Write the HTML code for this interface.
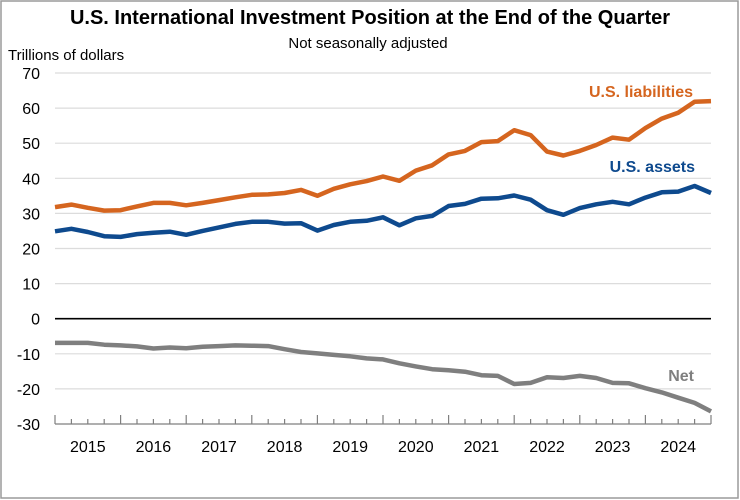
<!DOCTYPE html>
<html><head><meta charset="utf-8"><style>
body{margin:0;background:#fff;}
svg{display:block;font-family:"Liberation Sans",sans-serif;}
</style></head><body>
<svg id="chart" width="740" height="500" viewBox="0 0 740 500">
<rect x="1" y="1" width="737" height="497" fill="#fff" stroke="#9a9a9a" stroke-width="1.5"/>
<text x="370" y="24" text-anchor="middle" font-size="20" font-weight="bold" fill="#000">U.S. International Investment Position at the End of the Quarter</text>
<text x="368" y="48" text-anchor="middle" font-size="15" fill="#000">Not seasonally adjusted</text>
<text x="8" y="60" font-size="15" fill="#000">Trillions of dollars</text>
<g id="grid"></g><g id="axis"></g><g id="series"></g>
<text x="693" y="97" text-anchor="end" font-size="16" font-weight="bold" fill="#d5651f">U.S. liabilities</text>
<text x="695" y="172" text-anchor="end" font-size="16" font-weight="bold" fill="#0e4a8e">U.S. assets</text>
<text x="694" y="381" text-anchor="end" font-size="16" font-weight="bold" fill="#7f7f7f">Net</text>
</svg>
<script>
const years=["2015","2016","2017","2018","2019","2020","2021","2022","2023","2024"];
const yTicks=[70,60,50,40,30,20,10,0,-10,-20,-30];
const liabilities=[31.8,32.5,31.6,30.8,30.9,32,33,33,32.3,33,33.8,34.6,35.3,35.4,35.8,36.7,35,37,38.3,39.2,40.5,39.3,42.2,43.7,46.8,47.8,50.3,50.6,53.7,52.3,47.6,46.5,47.8,49.5,51.6,51,54.3,57,58.7,61.8,62];
const assets=[24.9,25.6,24.7,23.5,23.3,24.1,24.5,24.8,23.9,25,26,27,27.6,27.6,27.1,27.2,25.1,26.7,27.6,27.9,28.9,26.6,28.6,29.3,32.1,32.7,34.2,34.3,35.1,33.9,30.9,29.6,31.5,32.6,33.3,32.6,34.5,36,36.2,37.8,35.8];
const net=[-6.9,-6.9,-6.9,-7.4,-7.6,-7.9,-8.5,-8.2,-8.4,-8,-7.8,-7.6,-7.7,-7.8,-8.7,-9.5,-9.9,-10.3,-10.7,-11.3,-11.6,-12.7,-13.6,-14.4,-14.7,-15.1,-16.1,-16.3,-18.6,-18.3,-16.7,-16.9,-16.3,-16.9,-18.3,-18.4,-19.8,-21,-22.5,-24,-26.4];
const NS="http://www.w3.org/2000/svg";
const X0=55,X1=711,Y0=424,Y1=73,VMIN=-30,VMAX=70;
function yS(v){return Y0-(v-VMIN)/(VMAX-VMIN)*(Y0-Y1);}
function xS(i,n){return X0+i*(X1-X0)/(n-1);}
function mk(tag,attrs,parent){const e=document.createElementNS(NS,tag);for(const k in attrs)e.setAttribute(k,attrs[k]);parent.appendChild(e);return e;}
const grid=document.getElementById('grid'),axis=document.getElementById('axis'),series=document.getElementById('series');
yTicks.forEach(v=>{
  const l=mk('line',{x1:X0,x2:X1,y1:yS(v),y2:yS(v),stroke:v===0?'#000':(v===VMIN?'#7f7f7f':'#dcdcdc'),'stroke-width':v===0?1.6:1.2},grid);
  
  
  const t=mk('text',{x:40,y:yS(v)+6,'text-anchor':'end','font-size':16,fill:'#000'},axis);
  t.textContent=String(v);
  
  
});
const nq=years.length*4;
for(let q=0;q<=nq;q++){
  const x=X0+q*(X1-X0)/nq;const major=q%4===0;
  const tk=mk('line',{x1:x,x2:x,y1:Y0,y2:Y0-(major?9:5),stroke:'#7f7f7f','stroke-width':1.2},axis);
  
  
}
years.forEach((y,i)=>{
  const x=X0+(i+0.5)*(X1-X0)/years.length;
  const t=mk('text',{x:x,y:452,'text-anchor':'middle','font-size':16,fill:'#000'},axis);
  t.textContent=y;
  
  
});
function line(data,color,name){
  const pts=data.map((v,i)=>xS(i,data.length).toFixed(1)+','+yS(v).toFixed(1)).join(' ');
  const p=mk('polyline',{points:pts,fill:'none',stroke:color,'stroke-width':4.5,'stroke-linejoin':'round'},series);
  
  
}
line(liabilities,'#d5651f','liabilities-line');
line(assets,'#0e4a8e','assets-line');
line(net,'#7f7f7f','net-line');
</script>
</body></html>
